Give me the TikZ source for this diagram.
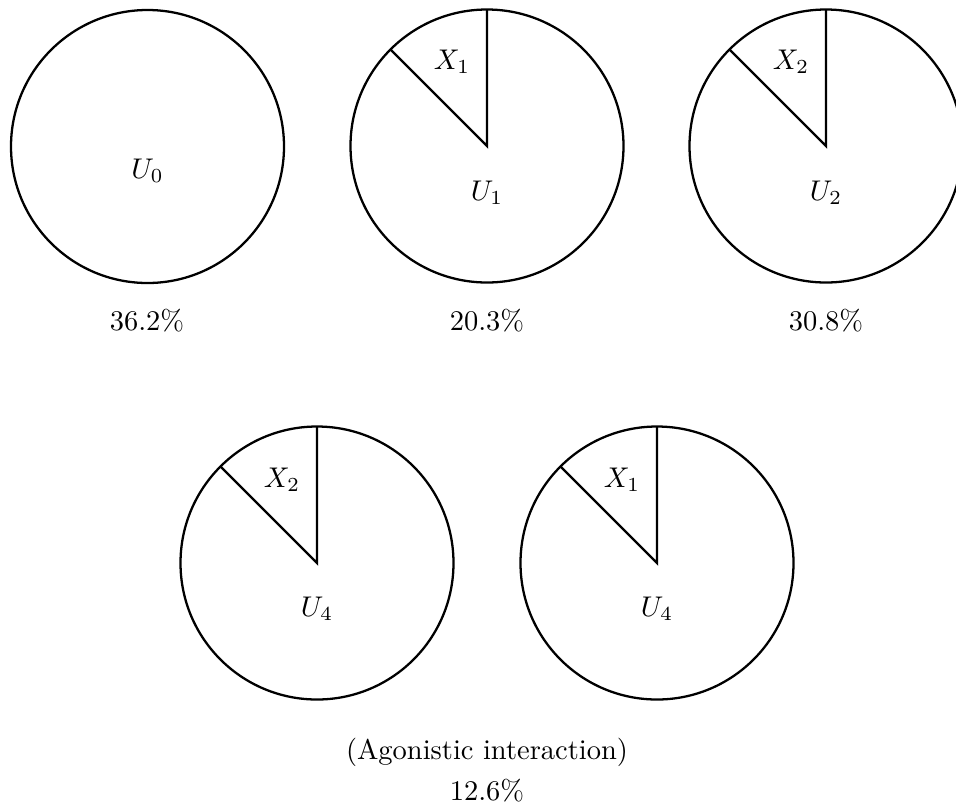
\documentclass[tikz,border=0pt]{standalone}
\usetikzlibrary{calc}
\begin{document}
\begin{tikzpicture}[x=0.351pt,y=-0.351pt,
  pie/.style={line width=0.8pt},
  lbl/.style={inner sep=0pt,anchor=center}]
\useasboundingbox (0,0) rectangle (956,805);
\clip (0,0) rectangle (956,805);
% centres
\coordinate (c0) at (147.5,146.5);
\coordinate (c1) at (487,146);
\coordinate (c2) at (826,146);
\coordinate (c3) at (317,563);
\coordinate (c4) at (657,563);
% circles
\draw[pie] (c0) circle[radius=136.5];
\foreach \c in {c1,c2,c3,c4}{
  \draw[pie] (\c) circle[radius=136.5];
  \draw[pie] ($(\c)+(225:136.5)$) -- (\c) -- ($(\c)+(270:136.5)$);
}
% labels
\node[lbl] (u0) at (147.5,171) {$U_0$};
\node[lbl] (x1) at (452,62) {$X_1$};
\node[lbl] (u1) at (487,193) {$U_1$};
\node[lbl] (x2) at (791,62) {$X_2$};
\node[lbl] (u2) at (826,193) {$U_2$};
\node[lbl] (x2b) at (282,480) {$X_2$};
\node[lbl] (u4a) at (317,609) {$U_4$};
\node[lbl] (x1b) at (622,480) {$X_1$};
\node[lbl] (u4b) at (657,609) {$U_4$};
\node[lbl] (p0) at (147,321) {36.2\%};
\node[lbl] (p1) at (487,321) {20.3\%};
\node[lbl] (p2) at (826,321) {30.8\%};
\node[lbl] (ag) at (487,752) {(Agonistic interaction)};
\node[lbl] (p3) at (487,791) {12.6\%};
\end{tikzpicture}
\end{document}
